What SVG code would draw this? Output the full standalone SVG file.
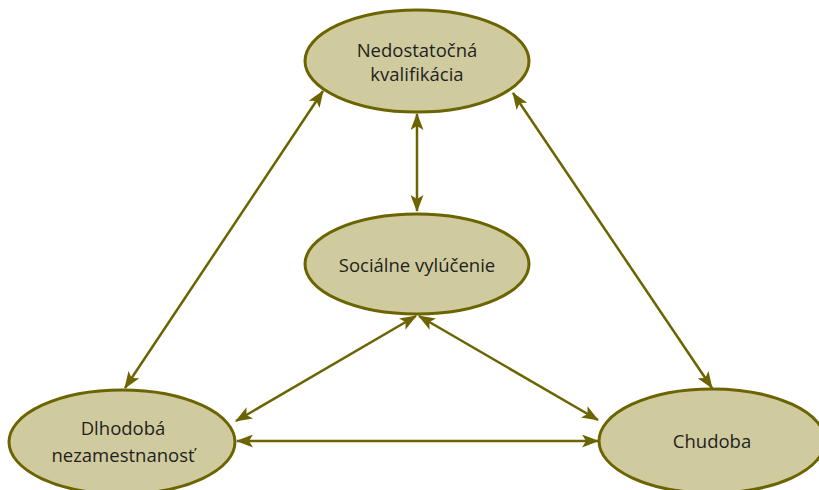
<svg xmlns="http://www.w3.org/2000/svg" width="819" height="490" viewBox="0 0 819 490">
<style>
.node ellipse{fill:#cfcb9f;stroke:#6b6400;stroke-width:3}
.node text{font-family:"Open Sans","Noto Sans",sans-serif;font-size:18.5px;fill:#231f20;text-anchor:middle}
.edges line{stroke:#6b6400;stroke-width:2.5;marker-start:url(#ah);marker-end:url(#ah)}
</style>
<defs>
<marker id="ah" viewBox="0 0 17 13" refX="16" refY="6.5" markerWidth="17" markerHeight="13" markerUnits="userSpaceOnUse" orient="auto-start-reverse">
<path d="M0,0 L17,6.5 L0,13 L4,6.5 Z" fill="#6b6400"/>
</marker>
</defs>
<rect width="819" height="490" fill="#fff"/>
<g class="edges">
<line x1="417" y1="114" x2="417" y2="211"/>
<line x1="323" y1="91" x2="125" y2="388"/>
<line x1="513" y1="93" x2="712" y2="388"/>
<line x1="416" y1="316" x2="236" y2="421"/>
<line x1="419" y1="316" x2="598" y2="420"/>
<line x1="237" y1="441" x2="598" y2="441"/>
</g>
<g id="n_kval" class="node">
<ellipse cx="417" cy="61" rx="112" ry="51"/>
<text x="417" y="57">Nedostatočná</text>
<text x="417" y="81">kvalifikácia</text>
</g>
<g id="n_soc" class="node">
<ellipse cx="417" cy="264" rx="112" ry="50"/>
<text x="417" y="272">Sociálne vylúčenie</text>
</g>
<g id="n_dlh" class="node">
<ellipse cx="122" cy="442" rx="113" ry="52"/>
<text x="123" y="435">Dlhodobá</text>
<text x="123" y="462">nezamestnanosť</text>
</g>
<g id="n_chud" class="node">
<ellipse cx="712" cy="441" rx="113" ry="52"/>
<text x="712" y="448">Chudoba</text>
</g>
</svg>
